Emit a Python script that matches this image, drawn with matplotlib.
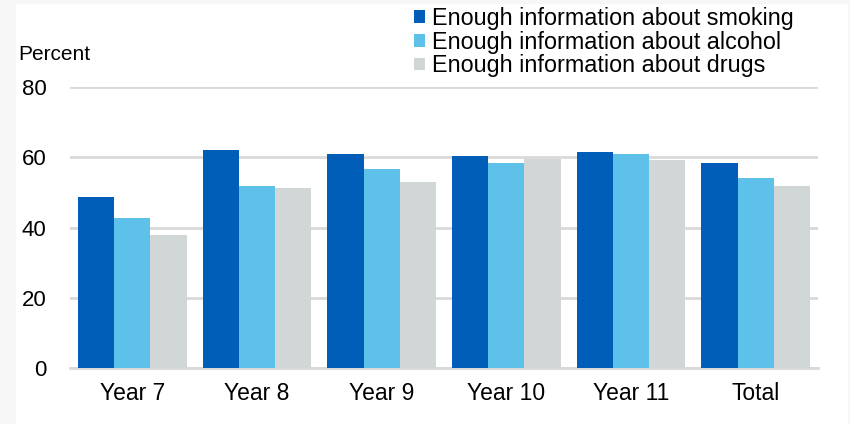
import matplotlib
matplotlib.use("Agg")
import matplotlib.pyplot as plt
import numpy as np

plt.rcParams['font.family'] = ['Liberation Sans', 'DejaVu Sans']

categories = ["Year 7", "Year 8", "Year 9", "Year 10", "Year 11", "Total"]
smoking = [48.7, 62.1, 60.9, 60.3, 61.5, 58.4]
alcohol = [42.7, 51.8, 56.7, 58.4, 60.9, 54.2]
drugs = [37.8, 51.2, 53.0, 59.6, 59.1, 51.8]
series_labels = ["Enough information about smoking",
                 "Enough information about alcohol",
                 "Enough information about drugs"]
colors = ["#005EB8", "#5EC1EA", "#D1D6D6"]
yticks = [0, 20, 40, 60, 80]

W, H = 850, 424
fig = plt.figure(figsize=(W / 100, H / 100), dpi=100)
fig.patch.set_facecolor("#F7F7F7")

bg = fig.add_axes([16 / W, 0, (848 - 16) / W, (H - 4) / H], zorder=-10)
bg.set_facecolor("white")
bg.set_xticks([])
bg.set_yticks([])
for s in bg.spines.values():
    s.set_visible(False)

ax = fig.add_axes([70 / W, (H - 368) / H, (818 - 70) / W, (368 - 87) / H])
ax.set_facecolor("none")

x = np.arange(len(categories))
bw = 0.291
for i, (vals, c, lab) in enumerate(zip([smoking, alcohol, drugs], colors, series_labels)):
    ax.bar(x + (i - 1) * bw, vals, width=bw, color=c, label=lab, zorder=3)

ax.set_xlim(-0.5, len(categories) - 0.5)
ax.set_ylim(0, 80)
ax.set_yticks(yticks)
ax.set_xticks(x)
ax.set_xticklabels(categories, fontsize=16.5)
ax.tick_params(axis="y", labelsize=16, length=0, pad=17)
ax.tick_params(axis="x", length=0, pad=10)
ax.grid(axis="y", color="#D9D9D9", linewidth=2, zorder=0)
for s in ["top", "right", "left"]:
    ax.spines[s].set_visible(False)
ax.spines["bottom"].set_color("#D9D9D9")
ax.spines["bottom"].set_linewidth(2)

fig.text(18 / W, 1 - 54 / H, "Percent", fontsize=15, va="center", ha="left")

leg = fig.legend(loc="upper left", bbox_to_anchor=(407 / W, 1 - 0 / H),
                 frameon=False, fontsize=16.8, handlelength=0.45, handleheight=0.45,
                 handletextpad=0.3, labelspacing=0.03, borderaxespad=0, borderpad=0.3)

fig.savefig("out.png", dpi=100, facecolor=fig.get_facecolor())
